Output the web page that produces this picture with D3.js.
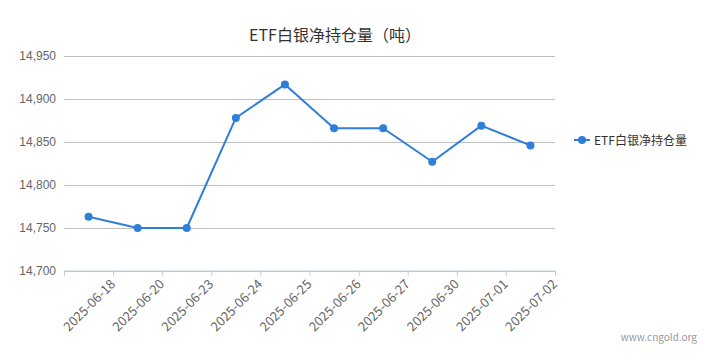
<!DOCTYPE html>
<html>
<head>
<meta charset="utf-8">
<script src="https://cdn.jsdelivr.net/npm/d3@7/dist/d3.min.js"></script>
<style>
  body { margin: 0; background: #fff; }
  svg { font-family: "Noto Sans CJK SC", "Noto Sans", sans-serif; }
</style>
</head>
<body>
<div class="chart-container"></div>
<script>
const dates = ["2025-06-18", "2025-06-20", "2025-06-23", "2025-06-24", "2025-06-25",
               "2025-06-26", "2025-06-27", "2025-06-30", "2025-07-01", "2025-07-02"];
const holdings = [14763, 14750, 14750, 14878, 14917, 14866, 14866, 14827, 14869, 14846];
const yTicks = [14700, 14750, 14800, 14850, 14900, 14950];

const svg_width = 706;
const svg_height = 358;
const chart_margin = {top: 56, right: 151, bottom: 87, left: 64};
const chart_width = svg_width - (chart_margin.left + chart_margin.right);
const chart_height = svg_height - (chart_margin.top + chart_margin.bottom);
const lineColor = "#2f7ed8";

const svg = d3.select(".chart-container").append("svg")
    .attr("width", svg_width).attr("height", svg_height);

const g = svg.append("g")
    .attr("transform", `translate(${chart_margin.left},${chart_margin.top})`);

const xScale = d3.scaleBand().domain(dates).range([0, chart_width]).padding(0);
const yScale = d3.scaleLinear([14700, 14950], [chart_height, 0]);

// grid + y labels
const yAxis = d3.axisLeft(yScale).tickValues(yTicks)
    .tickFormat(d3.format(","))
    .tickSize(-chart_width).tickPadding(8);
const yAxisDraw = g.append("g").attr("class", "y axis").call(yAxis);
yAxisDraw.select(".domain").remove();
yAxisDraw.selectAll("line").attr("stroke", "#c0c0c0");
yAxisDraw.selectAll("text").attr("fill", "#666").style("font-size", "12px");

// x axis line and boundary ticks
const xg = g.append("g").attr("class", "x axis")
    .attr("transform", `translate(0,${chart_height})`);
xg.append("line").attr("x1", 0).attr("x2", chart_width)
    .attr("stroke", "#c0d0e0");
const bounds = dates.map(d => xScale(d)).concat([chart_width]);
xg.selectAll(".tick").data(bounds).enter().append("line")
    .attr("x1", d => d + 0.5).attr("x2", d => d + 0.5)
    .attr("y1", 0).attr("y2", 5)
    .attr("stroke", "#c0d0e0");
xg.selectAll(".xlabel").data(dates).enter().append("text")
    .attr("class", "xlabel")
    .attr("transform", d => `translate(${xScale(d) + xScale.bandwidth() + 3},${14}) rotate(-45)`)
    .attr("text-anchor", "end")
    .attr("fill", "#666")
    .style("font-size", "13px")
    .text(d => d);

// line
const cx = d => xScale(d) + xScale.bandwidth() / 2;
const line = d3.line().x((d, i) => cx(dates[i])).y(d => yScale(d));
g.append("path").datum(holdings)
    .attr("d", line)
    .attr("fill", "none")
    .attr("stroke", lineColor)
    .attr("stroke-width", 2)
    .attr("stroke-linejoin", "round");
g.selectAll(".dot").data(holdings).enter().append("circle")
    .attr("class", "dot")
    .attr("cx", (d, i) => cx(dates[i]))
    .attr("cy", d => yScale(d))
    .attr("r", 4)
    .attr("fill", lineColor);

// title
svg.append("text")
    .attr("x", 335).attr("y", 41)
    .attr("text-anchor", "middle")
    .attr("fill", "#333")
    .style("font-size", "16px")
    .text("ETF白银净持仓量（吨）");

// legend
const legend = svg.append("g").attr("transform", "translate(574,140)");
legend.append("line").attr("x1", 0).attr("x2", 16).attr("stroke", lineColor).attr("stroke-width", 2);
legend.append("circle").attr("cx", 8).attr("r", 4).attr("fill", lineColor);
legend.append("text").attr("x", 20).attr("y", 4.5)
    .attr("fill", "#333").style("font-size", "12px")
    .text("ETF白银净持仓量");

// watermark
svg.append("text")
    .attr("x", 697).attr("y", 341)
    .attr("text-anchor", "end")
    .attr("fill", "#999")
    .style("font-size", "10px")
    .text("www.cngold.org");
</script>
</body>
</html>
